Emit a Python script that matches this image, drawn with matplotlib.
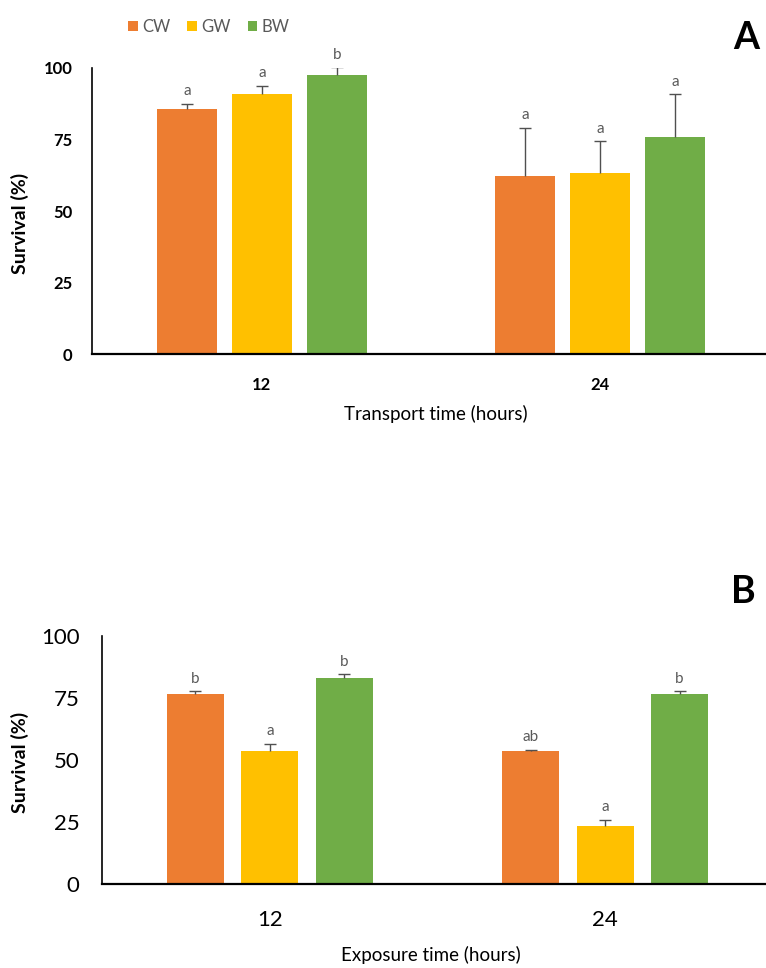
import matplotlib
matplotlib.use('Agg')
import matplotlib.pyplot as plt
import numpy as np
from matplotlib.patches import Patch

plt.rcParams['font.family'] = ['Lato', 'DejaVu Sans']

treatments = ['CW', 'GW', 'BW']
colors = ['#ED7D31', '#FFC000', '#70AD47']
hours = ['12', '24']

# panel A: transport
surv_a = {'CW': [85.6, 62.2], 'GW': [90.9, 63.4], 'BW': [97.4, 75.8]}
err_a = {'CW': [1.8, 16.8], 'GW': [2.8, 11.0], 'BW': [2.7, 14.9]}
let_a = {'CW': ['a', 'a'], 'GW': ['a', 'a'], 'BW': ['b', 'a']}

# panel B: exposure
surv_b = {'CW': [76.4, 53.6], 'GW': [53.6, 23.2], 'BW': [83.2, 76.4]}
err_b = {'CW': [1.3, 0.4], 'GW': [2.8, 2.7], 'BW': [1.3, 1.3]}
let_b = {'CW': ['b', 'ab'], 'GW': ['a', 'a'], 'BW': ['b', 'b']}

fig = plt.figure(figsize=(7.66, 9.68), dpi=100)


def draw_panel(ax, surv, err, letters, width, xlim, xlabel, tick_fs, tick_bold):
    x = np.arange(len(hours))
    for i, t in enumerate(treatments):
        pos = x + (i - 1) * 0.222
        ax.bar(pos, surv[t], width, color=colors[i], zorder=2)
        eb = ax.errorbar(pos, surv[t], yerr=[np.zeros(len(hours)), err[t]], fmt='none',
                         ecolor='#505050', elinewidth=1, capsize=4.3, capthick=1, zorder=3)
        # only the upper cap
        eb[1][0].set_visible(False)
        for j in range(len(hours)):
            ax.annotate(letters[t][j], (pos[j], surv[t][j] + err[t][j]),
                        xytext=(0, 4), textcoords='offset points', ha='center', va='bottom',
                        fontsize=11, color='#595959')
    ax.set_xlim(*xlim)
    ax.set_ylim(0, 100)
    ax.set_yticks([0, 25, 50, 75, 100])
    ax.set_xticks(x)
    ax.set_xticklabels(hours)
    for s in ['top', 'right']:
        ax.spines[s].set_visible(False)
    ax.spines['left'].set_linewidth(1.2)
    ax.spines['bottom'].set_linewidth(1.6)
    ax.tick_params(axis='both', length=0, labelsize=tick_fs)
    if tick_bold:
        for lab in ax.get_xticklabels() + ax.get_yticklabels():
            lab.set_fontweight('bold')
    ax.set_xlabel(xlabel, fontsize=13.5, va='center')
    ax.set_ylabel('Survival (%)', fontsize=14, fontweight='bold', va='center')


ax1 = fig.add_axes([0.120, 0.634, 0.88, 0.296])
draw_panel(ax1, surv_a, err_a, let_a, 0.178, (-0.503, 1.491),
           'Transport time (hours)', 12, True)
ax1.tick_params(axis='x', pad=16)
ax1.tick_params(axis='y', pad=14)
ax1.xaxis.set_label_coords(0.51, -0.21)
ax1.yaxis.set_label_coords(-0.107, 0.455)

ax2 = fig.add_axes([0.133, 0.087, 0.867, 0.256])
draw_panel(ax2, surv_b, err_b, let_b, 0.170, (-0.501, 1.48),
           'Exposure time (hours)', 16, False)
ax2.tick_params(axis='x', pad=19)
ax2.tick_params(axis='y', pad=16)
ax2.xaxis.set_label_coords(0.495, -0.286)
ax2.yaxis.set_label_coords(-0.123, 0.49)

handles = [Patch(facecolor=c, label=t) for c, t in zip(colors, treatments)]
fig.legend(handles=handles, loc='center left', bbox_to_anchor=(0.148, 0.972), ncol=3,
           frameon=False, fontsize=12, handlelength=0.55, handleheight=0.55,
           handletextpad=0.3, columnspacing=1.0, labelcolor='#595959')

fig.text(0.974, 0.961, 'A', fontsize=27, fontweight='bold', ha='center', va='center')
fig.text(0.970, 0.388, 'B', fontsize=27, fontweight='bold', ha='center', va='center')

fig.savefig('out.png', dpi=100, facecolor='white')
